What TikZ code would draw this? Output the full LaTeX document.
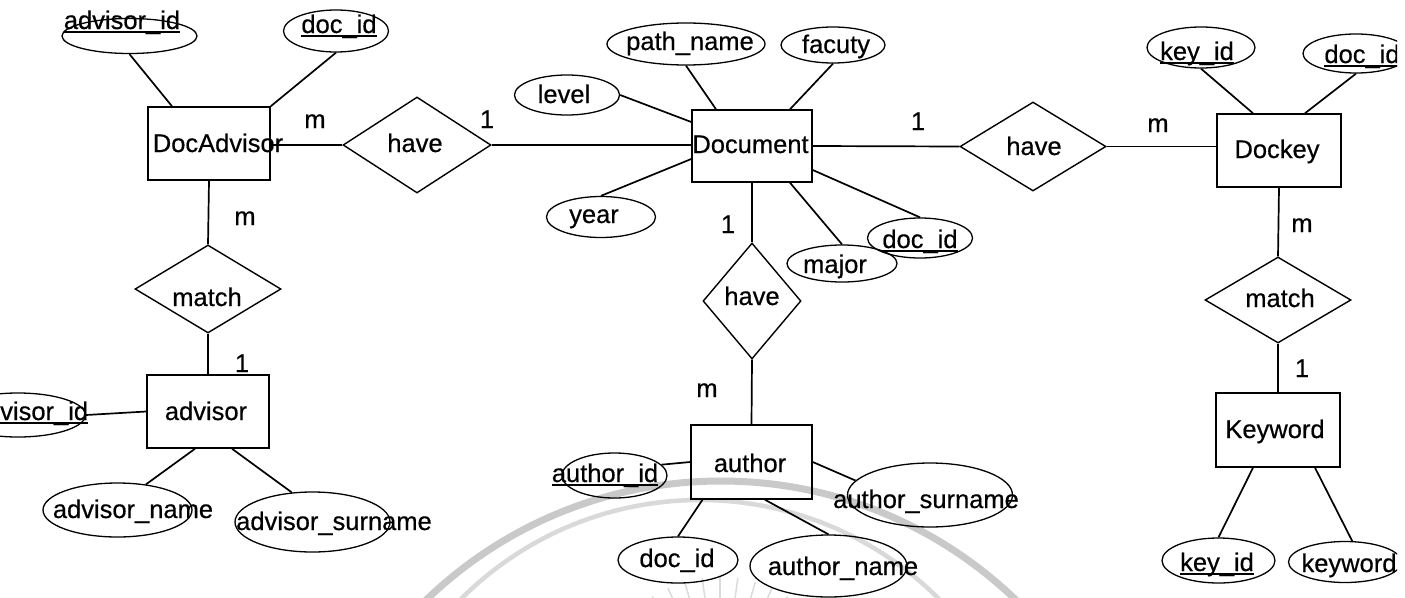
\documentclass[tikz,border=0pt]{standalone}
\usepackage{fontspec}
\setmainfont{Liberation Sans}
\newfontfamily\erfont{Liberation Sans}[FakeBold=0.5]
\usetikzlibrary{shapes.geometric,calc}
% underlined key attribute
\newcommand\keyul[1]{\setbox0=\hbox{#1}\rlap{\rule[-0.15em]{\wd0}{0.08em}}\box0}
\tikzset{
  entity/.style={draw, line width=1.5pt, rectangle, inner sep=0pt},
  rel/.style={draw, line width=1.4pt, diamond, inner sep=0pt},
  attr/.style={draw, line width=1.3pt, ellipse, inner sep=0pt},
  txt/.style={inner sep=0pt, anchor=base, font=\erfont\fontsize{25.5}{30}\selectfont},
  link/.style={line width=1.7pt},
  sealring/.style={draw=black!21, line width=7pt},
  sealinner/.style={draw=black!15, line width=4.5pt},
  sealray/.style={draw=black!14, line width=1.5pt}
}
\begin{document}
\begin{tikzpicture}[x=1pt, y=-1pt]
\useasboundingbox (0,0) rectangle (1405,597);
\clip (0,0) rectangle (1397,597);

% faint seal in the background
\coordinate (sealA) at (721,906);
\coordinate (sealB) at (700,838);
\coordinate (sealC) at (720,705);
\draw[sealring] (sealA) circle[radius=425];
\draw[sealinner] (sealB) circle[radius=338];
\foreach \a in {50,58,...,130}
  \draw[sealray] ($(sealC)+(-\a:70)$) -- ($(sealC)+(-\a:128)$);

% entities
\node[entity, minimum width=122, minimum height=73] (dadv) at (209,143.5) {};
\node[entity, minimum width=122, minimum height=73] (adv) at (208,411.5) {};
\node[entity, minimum width=120, minimum height=72] (doc) at (752,146) {};
\node[entity, minimum width=121, minimum height=74] (auth) at (751.5,462) {};
\node[entity, minimum width=124, minimum height=73] (dkey) at (1279,150.5) {};
\node[entity, minimum width=124, minimum height=74] (kw) at (1278,430) {};

% relationships
\node[rel, minimum width=148, minimum height=96] (have1) at (417,145) {};
\node[rel, minimum width=146, minimum height=89] (have2) at (1033,146.5) {};
\node[rel, minimum width=98, minimum height=116] (have3) at (752,301) {};
\node[rel, minimum width=146, minimum height=88] (match1) at (208,289) {};
\node[rel, minimum width=146, minimum height=86] (match2) at (1278,300) {};

% attributes
\node[attr, minimum width=135, minimum height=35] (aAdvId) at (129.5,36) {};
\node[attr, minimum width=105, minimum height=42] (aDaDoc) at (336,31) {};
\node[attr, minimum width=105, minimum height=40] (aLevel) at (567,95) {};
\node[attr, minimum width=158, minimum height=42] (aPath) at (686,44) {};
\node[attr, minimum width=104, minimum height=36] (aFac) at (833,45) {};
\node[attr, minimum width=109, minimum height=41] (aYear) at (601,217) {};
\node[attr, minimum width=110, minimum height=37] (aMajor) at (842,263.5) {};
\node[attr, minimum width=105, minimum height=40] (aDocId) at (920,238) {};
\node[attr, minimum width=108, minimum height=41] (aKeyId) at (1201,47.5) {};
\node[attr, minimum width=106, minimum height=39] (aDkDoc) at (1356,53.5) {};
\node[attr, minimum width=135, minimum height=44] (aAdvId2) at (18,415) {};
\node[attr, minimum width=149, minimum height=54] (aAdvName) at (117.5,510) {};
\node[attr, minimum width=155, minimum height=60] (aAdvSur) at (312.5,522) {};
\node[attr, minimum width=105, minimum height=45] (aAuthId) at (614.5,475.5) {};
\node[attr, minimum width=165, minimum height=64] (aAuthSur) at (930,495) {};
\node[attr, minimum width=120, minimum height=46] (aAuthDoc) at (678,560) {};
\node[attr, minimum width=157, minimum height=62] (aAuthName) at (828.5,566) {};
\node[attr, minimum width=113, minimum height=45] (aKwKey) at (1218.5,560.5) {};
\node[attr, minimum width=113, minimum height=41] (aKw) at (1345,562) {};

% relationship connectors
\draw[link] (dadv.east |- have1.west) -- (have1.west);
\draw[link] (have1.east) -- (doc.west |- have1.east);
\draw[link] (doc.east) -- (have2.west);
\draw[link] (have2.east) -- (dkey.west |- have2.east);
\draw[link] (dadv.south) -- (match1.north);
\draw[link] (match1.south) -- (adv.north);
\draw[link] (doc.south) -- (have3.north);
\draw[link] (have3.south) -- (auth.north);
\draw[link] (dkey.south) -- (match2.north);
\draw[link] (match2.south) -- (kw.north);

% attribute connectors
\draw[link] (aAdvId.south) -- ([xshift=-37]dadv.north);
\draw[link] (aDaDoc.south) -- (dadv.north east);
\draw[link] (aLevel.east) -- ([yshift=24]doc.west);
\draw[link] (aPath.south) -- ([xshift=-36]doc.north);
\draw[link] (aFac.south) -- ([xshift=38]doc.north);
\draw[link] (aYear.north) -- ([yshift=-13]doc.west);
\draw[link] ([xshift=38]doc.south) -- (aMajor.north);
\draw[link] ([yshift=-24]doc.east) -- (aDocId.north);
\draw[link] (aKeyId.south) -- ([xshift=-26]dkey.north);
\draw[link] (aDkDoc.south) -- ([xshift=26]dkey.north);
\draw[link] (aAdvId2.east) -- (adv.west);
\draw[link] ([xshift=-13]adv.south) -- (aAdvName.42);
\draw[link] ([xshift=24]adv.south) -- (aAdvSur.125);
\draw[link] (aAuthId.13) -- (auth.west);
\draw[link] (auth.east) -- (aAuthSur.169);
\draw[link] ([xshift=-49]auth.south) -- (aAuthDoc.north);
\draw[link] ([xshift=13.5]auth.south) -- (aAuthName.north);
\draw[link] ([xshift=-25]kw.south) -- (aKwKey.north);
\draw[link] ([xshift=37]kw.south) -- (aKw.71);

% entity and relationship names
\node[txt] (tDadv) at (218,152) {DocAdvisor};
\node[txt] (tAdv) at (206,420) {advisor};
\node[txt] (tDoc) at (750.5,153) {Document};
\node[txt] (tAuth) at (750,472) {author};
\node[txt] (tDkey) at (1277,158) {Dockey};
\node[txt] (tKw) at (1275,438) {Keyword};
\node[txt] (tHave1) at (415,152) {have};
\node[txt] (tHave2) at (1034,155) {have};
\node[txt] (tHave3) at (752,305) {have};
\node[txt] (tMatch1) at (207,306) {match};
\node[txt] (tMatch2) at (1280,307) {match};

% attribute names
\node[txt] (tAdvId) at (122,29) {\keyul{advisor\_id}};
\node[txt] (tDaDoc) at (339,33) {\keyul{doc\_id}};
\node[txt] (tLevel) at (564,103) {level};
\node[txt] (tPath) at (690,50) {path\_name};
\node[txt] (tFac) at (836,53) {facuty};
\node[txt] (tYear) at (594,223) {year};
\node[txt] (tMajor) at (835,273) {major};
\node[txt] (tDocId) at (920,248) {\keyul{doc\_id}};
\node[txt] (tKeyId) at (1197,60) {\keyul{key\_id}};
\node[txt] (tDkDoc) at (1362,63) {\keyul{doc\_id}};
\node[txt] (tAdvId2) at (30,420) {\keyul{advisor\_id}};
\node[txt] (tAdvName) at (133,518) {advisor\_name};
\node[txt] (tAdvSur) at (334,530) {advisor\_surname};
\node[txt] (tAuthId) at (605,482) {\keyul{author\_id}};
\node[txt] (tAuthSur) at (926,508) {author\_surname};
\node[txt] (tAuthDoc) at (677,567) {doc\_id};
\node[txt] (tAuthName) at (843,575) {author\_name};
\node[txt] (tKwKey) at (1217,571) {\keyul{key\_id}};
\node[txt] (tKwName) at (1349,572) {keyword};

% cardinalities
\node[txt] (c1) at (315,128) {m};
\node[txt] (c2) at (487,128) {1};
\node[txt] (c3) at (245,225) {m};
\node[txt] (c4) at (242,372) {1};
\node[txt] (c5) at (918,130) {1};
\node[txt] (c6) at (1158,132) {m};
\node[txt] (c7) at (728,233) {1};
\node[txt] (c8) at (707,397) {m};
\node[txt] (c9) at (1302,232) {m};
\node[txt] (c10) at (1302,377) {1};
\end{tikzpicture}
\end{document}
